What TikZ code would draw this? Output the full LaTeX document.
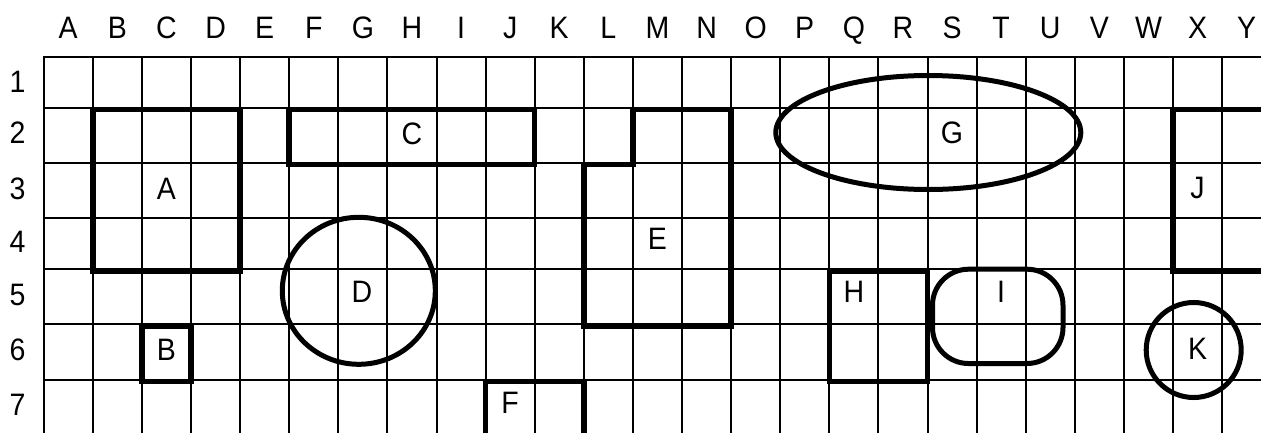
\documentclass[tikz,border=0pt]{standalone}
\usepackage{fontspec}
\setmainfont{Liberation Sans}
\newfontfamily\lblfont[FakeStretch=0.92]{Liberation Sans}
\begin{document}
\begin{tikzpicture}[x=1pt,y=-1pt,
  gridline/.style={line width=2pt,line cap=rect,black},
  thickshape/.style={line width=5.5pt,black,line join=miter},
  roundshape/.style={line width=5pt,black},
  lbl/.style={inner sep=0pt,text height=22.2pt,text depth=0pt,anchor=center,font=\lblfont\fontsize{31pt}{36pt}\selectfont}]
\useasboundingbox (0,0) rectangle (1261,432);
\clip (0,0) rectangle (1261,432);
\fill[white] (0,0) rectangle (1261,432);
% grid
\foreach \i in {0,...,24}
  \draw[gridline] ({43.7+49.1*\i},57.3) -- ({43.7+49.1*\i},440);
\foreach \y in {57.3,107.7,162.5,218.4,268.8,324.2,379.5}
  \draw[gridline] (43.7,\y) -- (1275,\y);
% headers
\foreach \c [count=\i from 0] in {A,...,Y}
  \node[lbl] (col\c) at ({68.25+49.1*\i},27) {\c};
\foreach \r/\y in {1/81,2/132.5,3/188,4/241,5/294,6/349.5,7/404}
  \node[lbl] (row\r) at (17.5,\y) {\r};
% thick shapes
\begin{scope}[yshift=-2pt]
\draw[thickshape] (92.8,107.7) rectangle (240.1,268.8);
\draw[thickshape] (141.9,324.2) rectangle (191.0,379.5);
\draw[thickshape] (289.2,107.7) rectangle (534.7,162.5);
\draw[thickshape] (632.9,107.7) -- (731.1,107.7) -- (731.1,324.2) -- (583.8,324.2) -- (583.8,162.5) -- (632.9,162.5) -- cycle;
\draw[thickshape] (583.8,450) -- (583.8,379.5) -- (485.6,379.5) -- (485.6,450);
\draw[thickshape] (829.3,268.8) rectangle (927.5,379.5);
\draw[thickshape] (1290,107.7) -- (1173.0,107.7) -- (1173.0,268.8) -- (1290,268.8);
\end{scope}
% round shapes
\draw[roundshape] (358.8,290.8) ellipse [x radius=76.5, y radius=73.5];
\draw[roundshape] (928.3,132.5) ellipse [x radius=152.5, y radius=57];
\draw[roundshape,rounded corners=36pt] (932.5,269.2) rectangle (1063,363.5);
\draw[roundshape] (1193.7,350) circle [radius=47.5];
% labels
\node[lbl] (lA) at (166.5,188) {A};
\node[lbl] (lB) at (166.5,349.5) {B};
\node[lbl] (lC) at (411.9,133) {C};
\node[lbl] (lD) at (362,291) {D};
\node[lbl] (lE) at (657.4,238) {E};
\node[lbl] (lF) at (510.1,402.5) {F};
\node[lbl] (lG) at (952,132) {G};
\node[lbl] (lH) at (853.9,291) {H};
\node[lbl] (lI) at (1001,291) {I};
\node[lbl] (lJ) at (1197.5,187) {J};
\node[lbl] (lK) at (1197.5,348) {K};
\end{tikzpicture}
\end{document}
